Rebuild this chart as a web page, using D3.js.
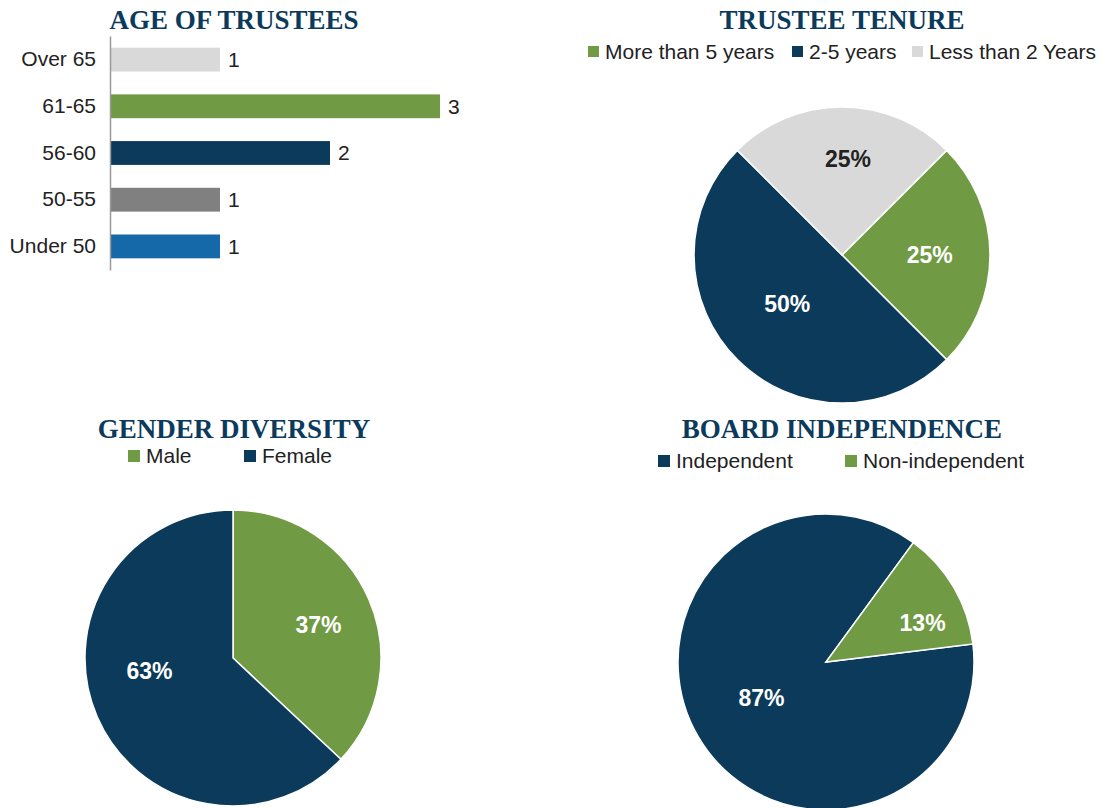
<!DOCTYPE html>
<html lang="en">
<head>
<meta charset="utf-8">
<title>Board charts</title>
<script src="https://d3js.org/d3.v7.min.js"></script>
<style>
    body { margin: 0; background: #fff; }
    .title { font-family: "Liberation Serif", "Times New Roman", serif; font-weight: bold; fill: #0b3a5c; font-size: 27px; }
    .lab { font-family: "Liberation Sans", Arial, sans-serif; fill: #222; font-size: 21px; }
    .pct { font-family: "Liberation Sans", Arial, sans-serif; font-weight: bold; font-size: 23px; }
</style>
</head>
<body>
<script>
    // ages
    var ageCats = ["Over 65", "61-65", "56-60", "50-55", "Under 50"];
    var ageVals = [1, 3, 2, 1, 1];
    var ageColors = ["#d9d9d9", "#709a44", "#0b3a5a", "#808080", "#1569a8"];

    // tenure
    var tenureCats = ["More than 5 years", "2-5 years", "Less than 2 Years"];
    var tenureVals = [25, 50, 25];
    var tenureColors = ["#709a44", "#0b3a5a", "#d9d9d9"];

    // gender
    var genderCats = ["Male", "Female"];
    var genderVals = [37, 63];
    var genderColors = ["#709a44", "#0b3a5a"];

    // independence
    var boardCats = ["Independent", "Non-independent"];
    var boardVals = [87, 13];
    var boardColors = ["#0b3a5a", "#709a44"];

    var w = 1102, h = 808;
    var svg = d3.select("body").append("svg").attr("width", w).attr("height", h);

    //Bar chart
    var x = d3.scaleLinear().domain([0, 3]).range([110, 440]);
    var y = d3.scaleBand().domain(ageCats).range([36, 270]).paddingInner(0.49).paddingOuter(0.25);

    svg.append("text").attr("class", "title").attr("x", 234).attr("y", 29)
        .attr("text-anchor", "middle").text("AGE OF TRUSTEES");

    svg.selectAll("rect.bar")
        .data(ageVals)
        .enter()
        .append("rect")
        .attr("class", "bar")
        .attr("x", x(0))
        .attr("y", function(d, i) { return y(ageCats[i]); })
        .attr("width", function(d) { return x(d) - x(0); })
        .attr("height", y.bandwidth())
        .attr("fill", function(d, i) { return ageColors[i]; });

    svg.selectAll("text.val")
        .data(ageVals)
        .enter()
        .append("text")
        .attr("class", "lab")
        .attr("x", function(d) { return x(d) + 8; })
        .attr("y", function(d, i) { return y(ageCats[i]) + y.bandwidth() / 2; })
        .attr("dy", "0.35em")
        .text(function(d) { return d; });

    var yAxis = svg.append("g").attr("transform", "translate(110,0)")
        .call(d3.axisLeft(y).tickSize(0).tickPadding(14));
    yAxis.select(".domain").attr("stroke", "#999").attr("stroke-width", 1.5);
    yAxis.selectAll("text").attr("class", "lab").attr("font-size", null).attr("font-family", null).attr("fill", null);

    //Pies
    function drawPie(opt) {
        svg.append("text").attr("class", "title").attr("x", opt.titleX).attr("y", opt.titleY)
            .attr("text-anchor", "middle").text(opt.title);

        var pie = d3.pie().sort(null).startAngle(opt.start).endAngle(opt.start + 2 * Math.PI);
        var arcs = pie(opt.vals);
        var arc = d3.arc().innerRadius(0).outerRadius(opt.r);
        var g = svg.append("g").attr("transform", "translate(" + opt.cx + "," + opt.cy + ")");
        g.selectAll("path")
            .data(arcs)
            .enter()
            .append("path")
            .attr("d", arc)
            .attr("fill", function(d, i) { return opt.colors[i]; })
            .attr("stroke", "#fff")
            .attr("stroke-width", 1.5);

        var labelArc = d3.arc().innerRadius(opt.r * 0.6).outerRadius(opt.r * 0.6);
        g.selectAll("text")
            .data(arcs)
            .enter()
            .append("text")
            .attr("class", "pct")
            .attr("transform", function(d, i) {
                var c = labelArc.centroid(d);
                if (opt.offsets) { c[0] += opt.offsets[i][0]; c[1] += opt.offsets[i][1]; }
                return "translate(" + c + ")";
            })
            .attr("text-anchor", "middle")
            .attr("dy", "0.35em")
            .attr("fill", function(d, i) { return opt.colors[i] === "#d9d9d9" ? "#222" : "#fff"; })
            .text(function(d) { return d.data + "%"; });

        //legend
        var lg = svg.append("g");
        opt.cats.forEach(function(c, i) {
            lg.append("rect").attr("x", opt.legX[i]).attr("y", opt.legY - 6)
                .attr("width", opt.sq).attr("height", opt.sq).attr("fill", opt.colors[i]);
            lg.append("text").attr("class", "lab").attr("x", opt.legX[i] + opt.sq + 6)
                .attr("y", opt.legY).attr("dy", "0.35em").text(c);
        });
    }

    drawPie({
        title: "TRUSTEE TENURE", titleX: 842, cx: 842, cy: 255, r: 148, titleY: 29,
        start: Math.PI / 4, vals: tenureVals, cats: tenureCats, colors: tenureColors,
        legX: [588, 792, 912], legY: 52, sq: 11,
        offsets: [[-1, 0], [8, -14], [6, -7]]
    });

    drawPie({
        title: "GENDER DIVERSITY", titleX: 234, cx: 233, cy: 658, r: 148, titleY: 438,
        start: 0, vals: genderVals, cats: genderCats, colors: genderColors,
        legX: [128, 244], legY: 456, sq: 12,
        offsets: [[4, 2], [-2, -22]]
    });

    drawPie({
        title: "BOARD INDEPENDENCE", titleX: 842, cx: 826, cy: 662, r: 148, titleY: 438,
        start: 83 * Math.PI / 180, vals: boardVals, cats: boardCats, colors: boardColors,
        legX: [658, 845], legY: 461, sq: 12,
        offsets: [[12, -9], [20, 6]]
    });
</script>
</body>
</html>
